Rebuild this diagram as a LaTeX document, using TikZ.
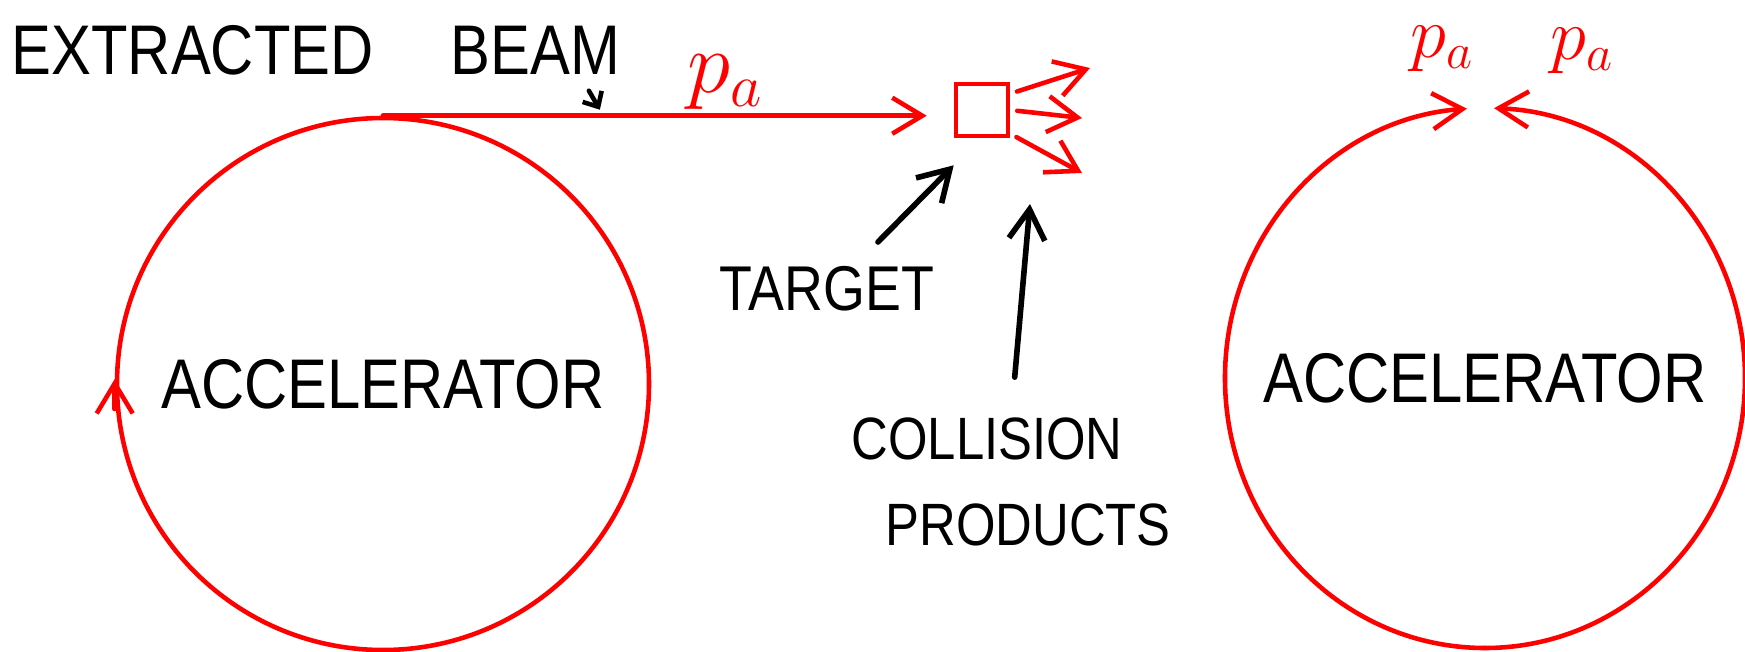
\documentclass[tikz,border=0pt]{standalone}
\usepackage{fontspec}
\setmainfont{Liberation Sans}[FakeStretch=0.85]
\usepackage{tikz}
\usetikzlibrary{arrows.meta}
\usetikzlibrary{positioning}

\begin{document}
\begin{tikzpicture}[
		>={Straight Barb[length=3mm,width=3.6mm]},
		beam/.style={red,line width=1.3pt,line cap=round,line join=round},
		pointer/.style={black,line width=1.6pt,line cap=round,line join=round},
		tag/.style={font=\fontsize{18}{25}\selectfont,inner sep=0pt},
		bigtag/.style={font=\fontsize{20}{24}\selectfont,inner sep=0pt},
		mom/.style={red,font=\fontsize{20}{24}\selectfont,inner sep=1pt}
	]
		\def \rX {2.6cm};
		\def \rY {2.7cm};
		\useasboundingbox (0,0) rectangle (17.45,6.51);

		% fixed target machine
		\node[bigtag,draw=red,line width=1.3pt,circle,minimum size=5.32cm] (acc1) at (3.83,2.67) {ACCELERATOR};
		\draw[beam,->] ([yshift=-0.25cm]acc1.west) -- ([yshift=0.05cm]acc1.west);
		\node[draw=red,line width=1.3pt,minimum size=0.52cm,inner sep=0pt] (tgt) at (9.82,5.41) {};
		\draw[beam,->,shorten >=0.27cm] (acc1.north) -- (acc1.north -| tgt.west)
			node[mom,font=\fontsize{26}{28}\selectfont,pos=0.6,above=0pt] (pBeam) {$p_a$}
			coordinate[pos=0.38] (hit);
		\node[bigtag,anchor=west] (extLabel) at (0.11,6.01) {EXTRACTED\hspace{0.77cm}BEAM};
		\draw[pointer,line width=1.3pt,-{Straight Barb[length=1.2mm,width=2.2mm]}] ([shift={(-0.11cm,0.25cm)}]hit) -- ([yshift=0.06cm]hit);

		% outgoing products
		\coordinate (prodA) at (10.90,5.83);
		\coordinate (prodB) at (10.82,5.33);
		\coordinate (prodC) at (10.82,4.78);
		\foreach \ang/\dest in {30/prodA,0/prodB,-40/prodC}
		{
			\draw[beam,->,shorten <=2pt] (tgt.\ang) -- (\dest);
		}

		\node[tag] (tgtLabel) at (8.27,3.62) {TARGET};
		\coordinate (tgtTail) at (8.78,4.09);
		\draw[pointer,->] (tgtTail) -- ([yshift=-0.27cm]tgt.south west);

		\node[tag,font=\fontsize{17}{24.5}\selectfont,align=left,anchor=north west] (prodLabel) at (8.51,2.34) {COLLISION\\\hspace*{0.34cm}PRODUCTS};
		\coordinate (prodTip) at (10.30,4.47);
		\draw[pointer,->,shorten <=0.4cm] (prodLabel.north) -- (prodTip);

		% colliding beams
		\node[bigtag] (acc2) at (14.85,2.73) {ACCELERATOR};
		\draw[beam,->] ([yshift=-\rY]acc2.center) arc[start angle=270,end angle=94,x radius=\rX,y radius=\rY];
		\draw[beam,->] ([yshift=-\rY]acc2.center) arc[start angle=-90,end angle=88,x radius=\rX,y radius=\rY];
		\node[mom] (pLeft) at (14.42,6.02) {$p_a$};
		\node[mom] (pRight) at (15.82,6.00) {$p_a$};

	\end{tikzpicture}
\end{document}
